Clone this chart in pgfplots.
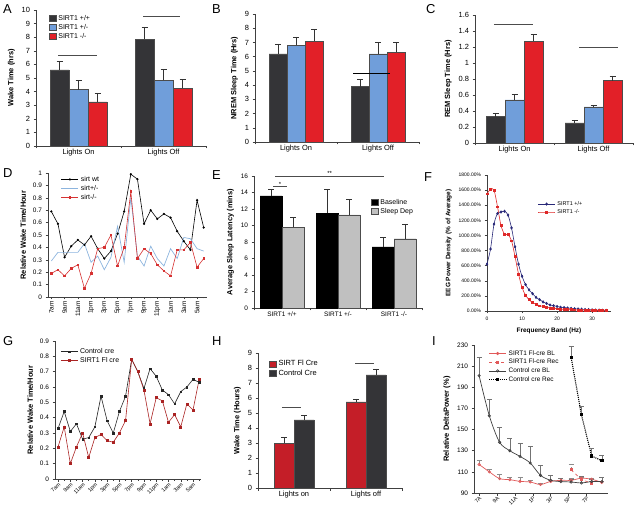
\documentclass[border=0pt]{standalone}
\usepackage{fontspec}
\setmainfont{Liberation Sans}
\usepackage{pgfplots}
\pgfplotsset{compat=1.18}

\definecolor{barblk}{RGB}{52,52,55}
\definecolor{barblu}{RGB}{112,158,218}
\definecolor{barred}{RGB}{226,32,40}
\definecolor{hred}{RGB}{196,30,40}
\definecolor{egrey}{RGB}{192,192,192}
\definecolor{dblue}{RGB}{140,180,222}
\definecolor{dred}{RGB}{214,50,50}
\definecolor{fnavy}{RGB}{40,40,120}
\definecolor{fred}{RGB}{222,40,40}
\definecolor{gred}{RGB}{170,35,35}
\definecolor{ired}{RGB}{225,90,90}

\pgfplotsset{
  panel/.style={
    scale only axis, anchor=south west,
    axis x line*=bottom, axis y line*=left,
    enlargelimits=false,
    tick align=outside,
    major tick length=2.5bp, minor tick length=1.5bp,
    axis line style={black!75, line width=0.5pt},
    every tick/.style={black!75, line width=0.5pt},
    tick label style={font=\fontsize{7.5}{8}\selectfont},
    label style={font=\bfseries\fontsize{7.5}{8}\selectfont},
    /pgf/number format/assume math mode=true,
    legend cell align=left,
    legend style={draw=none, fill=none, font=\fontsize{7}{8}\selectfont,
      row sep=-1.5pt, inner sep=1pt},
    clip=false,
  },
  barpanel/.style={panel, ybar=0pt, ymin=0, xmin=-0.5, xmax=1.5,
    xtick={-0.5,0.5,1.5}, xticklabels={},
    extra x tick style={major tick length=0pt},
    error bars/y dir=plus, error bars/y explicit,
    error bars/error bar style={black!80, line width=0.5pt},
    error bars/error mark options={rotate=90, mark size=3bp, black!80, line width=0.5pt},
    legend image code/.code={\draw[##1, draw=black!70, line width=0.3pt] (0bp,-3bp) rectangle (7bp,3bp);},
  },
}

\pgfplotstableread{
x wt het ko
0 0.69 0.29 0.19
1 0.59 0.36 0.22
2 0.32 0.36 0.17
3 0.41 0.36 0.23
4 0.46 0.36 0.26
5 0.42 0.43 0.07
6 0.49 0.28 0.19
7 0.39 0.33 0.39
8 0.31 0.22 0.40
9 0.37 0.32 0.50
10 0.51 0.57 0.25
11 0.69 0.28 0.40
12 0.99 0.80 0.85
13 0.95 0.33 0.31
14 0.59 0.25 0.39
15 0.70 0.41 0.35
16 0.63 0.31 0.26
17 0.67 0.25 0.21
18 0.64 0.39 0.17
19 0.53 0.31 0.38
20 0.45 0.48 0.38
21 0.38 0.47 0.44
22 0.78 0.39 0.24
23 0.56 0.37 0.31
}\tabD

\pgfplotstableread{
hz wt ko
0 620 1550
1 820 1610
2 1150 1600
3 1290 1380
4 1310 1130
5 1320 1020
6 1270 1010
7 1100 930
8 850 720
9 620 490
10 460 310
11 350 210
12 280 150
13 230 110
14 180 90
15 150 70
16 120 60
17 100 50
18 80 40
19 70 35
20 60 30
21 50 25
22 45 22
23 40 20
24 35 18
25 30 15
26 27 13
27 24 12
28 20 10
29 18 9
30 15 8
31 13 7
32 12 6
33 10 6
34 9 5
}\tabF

\pgfplotstableread{
x ctl fl
0 0.33 0.21
1 0.44 0.34
2 0.31 0.10
3 0.36 0.21
4 0.26 0.30
5 0.27 0.14
6 0.34 0.27
7 0.54 0.29
8 0.38 0.25
9 0.30 0.24
10 0.44 0.30
11 0.54 0.38
12 0.78 0.78
13 0.70 0.70
14 0.59 0.58
15 0.72 0.36
16 0.67 0.53
17 0.58 0.51
18 0.55 0.37
19 0.49 0.42
20 0.57 0.34
21 0.60 0.49
22 0.65 0.45
23 0.63 0.65
}\tabG

\begin{document}
\begin{tikzpicture}
\useasboundingbox (0,0) rectangle (640bp,512bp);

% panel letters
\begin{scope}[every node/.style={anchor=north west, inner sep=0pt, font=\fontsize{13}{14}\selectfont}]
\node at (3bp,508bp) {A};
\node at (212bp,508bp) {B};
\node at (426bp,508bp) {C};
\node at (3bp,344bp) {D};
\node at (212bp,342bp) {E};
\node at (424bp,340bp) {F};
\node at (3bp,176bp) {G};
\node at (212bp,176bp) {H};
\node at (432bp,176bp) {I};
\end{scope}

% ---------- A ----------
\begin{axis}[barpanel, at={(36bp,366bp)}, width=170bp, height=136bp,
  ymax=10, ytick={0,1,...,10}, bar width=19bp,
  ylabel={Wake Time (hrs)},
  extra x ticks={0,1}, extra x tick labels={Lights On,Lights Off},
  legend style={at={(0.07,0.985)}, anchor=north west}]
\addplot[fill=barblk, draw=black!70, line width=0.3pt] coordinates {(0,5.6) +- (0,0.6) (1,7.85) +- (0,0.9)};
\addplot[fill=barblu, draw=black!70, line width=0.3pt] coordinates {(0,4.15) +- (0,0.65) (1,4.85) +- (0,0.8)};
\addplot[fill=barred, draw=black!70, line width=0.3pt] coordinates {(0,3.25) +- (0,0.65) (1,4.25) +- (0,0.65)};
\legend{SIRT1 +/+, SIRT1 +/-, SIRT1 -/-}
\draw[black!70, line width=0.6pt] (axis cs:-0.24,6.67) -- (axis cs:0.22,6.67);
\draw[black!70, line width=0.6pt] (axis cs:0.76,9.56) -- (axis cs:1.19,9.56);
\end{axis}

% ---------- B ----------
\begin{axis}[barpanel, at={(255bp,370bp)}, width=164bp, height=128bp,
  ymax=9, ytick={0,1,...,9}, bar width=18bp,
  ylabel={NREM Sleep Time (Hrs)},
  extra x ticks={0,1}, extra x tick labels={Lights On,Lights Off}]
\addplot[fill=barblk, draw=black!70, line width=0.3pt] coordinates {(0,6.2) +- (0,0.7) (1,3.9) +- (0,0.5)};
\addplot[fill=barblu, draw=black!70, line width=0.3pt] coordinates {(0,6.8) +- (0,0.6) (1,6.2) +- (0,0.8)};
\addplot[fill=barred, draw=black!70, line width=0.3pt] coordinates {(0,7.1) +- (0,0.8) (1,6.3) +- (0,0.7)};
\draw[black, line width=0.9pt] (axis cs:0.70,4.8) -- (axis cs:1.15,4.8);
\end{axis}

% ---------- C ----------
\begin{axis}[barpanel, at={(475bp,369bp)}, width=158bp, height=128bp,
  ymax=1.6, ytick={0,0.2,0.4,0.6,0.8,1,1.2,1.4,1.6}, bar width=19bp,
  ylabel={REM Sleep Time (Hrs)},
  extra x ticks={0,1}, extra x tick labels={Lights On,Lights Off}]
\addplot[fill=barblk, draw=black!70, line width=0.3pt] coordinates {(0,0.33) +- (0,0.04) (1,0.25) +- (0,0.035)};
\addplot[fill=barblu, draw=black!70, line width=0.3pt] coordinates {(0,0.54) +- (0,0.07) (1,0.45) +- (0,0.025)};
\addplot[fill=barred, draw=black!70, line width=0.3pt] coordinates {(0,1.27) +- (0,0.09) (1,0.78) +- (0,0.06)};
\draw[black!70, line width=0.6pt] (axis cs:-0.26,1.48) -- (axis cs:0.23,1.48);
\draw[black!70, line width=0.6pt] (axis cs:0.82,1.2) -- (axis cs:1.31,1.2);
\end{axis}

% ---------- D ----------
\begin{axis}[panel, at={(48bp,215bp)}, width=159bp, height=124bp,
  xmin=-0.5, xmax=23.5, ymin=0, ymax=1,
  ytick={0,0.1,0.2,0.3,0.4,0.5,0.6,0.7,0.8,0.9,1},
  xtick={0,2,...,22}, minor xtick={1,3,...,23},
  xticklabels={7am,9am,11am,1pm,3pm,5pm,7pm,9pm,11pm,1am,3am,5am},
  xticklabel style={rotate=90, anchor=east, inner sep=1.5pt},
  tick label style={font=\fontsize{6.5}{7}\selectfont},
  ylabel={Relative Wake Time/Hour},
  legend style={at={(0.075,1.0)}, anchor=north west}]
\addplot[black, line width=0.6pt, mark=*, mark size=0.8bp] table[x=x, y=wt] {\tabD};
\addplot[dblue, line width=0.7pt, mark=none] table[x=x, y=het] {\tabD};
\addplot[dred, line width=0.6pt, mark=square*, mark size=0.8bp] table[x=x, y=ko] {\tabD};
\legend{sirt wt, sirt+/-, sirt-/-}
\end{axis}

% ---------- E ----------
\begin{axis}[panel, ybar=0pt, at={(254bp,204bp)}, width=168bp, height=132bp,
  xmin=-0.5, xmax=2.5, ymin=0, ymax=16, ytick={0,2,...,16}, bar width=22bp,
  xtick={-0.5,0.5,1.5,2.5}, xticklabels={},
  extra x ticks={0,1,2}, extra x tick labels={SIRT1 +/+,SIRT1 +/-,SIRT1 -/-},
  extra x tick style={major tick length=0pt},
  tick label style={font=\fontsize{6.5}{7}\selectfont},
  ylabel={Average Sleep Latency (mins)},
  error bars/y dir=plus, error bars/y explicit,
  error bars/error bar style={black!80, line width=0.5pt},
  error bars/error mark options={rotate=90, mark size=3bp, black!80, line width=0.5pt},
  legend image code/.code={\draw[#1, draw=black!70, line width=0.3pt] (0bp,-3bp) rectangle (7bp,3bp);},
  legend style={at={(0.69,0.85)}, anchor=north west}]
\addplot[fill=black, draw=black, line width=0.3pt] coordinates {(0,13.6) +- (0,0.8) (1,11.5) +- (0,2.9) (2,7.4) +- (0,1.2)};
\addplot[fill=egrey, draw=black!70, line width=0.3pt] coordinates {(0,9.8) +- (0,1.2) (1,11.3) +- (0,1.9) (2,8.4) +- (0,1.8)};
\legend{Baseline, Sleep Dep}
\draw[black!70, line width=0.6pt] (axis cs:-0.16,14.7) -- (axis cs:0.09,14.7);
\node[font=\fontsize{6}{6}\selectfont, inner sep=0.5pt, above] at (axis cs:-0.035,14.7) {*};
\draw[black!70, line width=0.6pt] (axis cs:-0.125,16) -- (axis cs:1.82,16);
\node[font=\fontsize{6}{6}\selectfont, inner sep=0.5pt, above] at (axis cs:0.85,16) {**};
\end{axis}

% ---------- F ----------
\begin{axis}[panel, at={(487bp,201bp)}, width=124bp, height=136bp,
  xmin=0, xmax=35.4, ymin=0, ymax=1800, ytick={0,200,...,1800},
  xtick={0,10,20,30}, scaled y ticks=false,
  yticklabel={\pgfmathprintnumber[fixed,fixed zerofill,precision=2,1000 sep={}]{\tick}\%},
  tick label style={font=\fontsize{5}{6}\selectfont},
  label style={font=\bfseries\fontsize{6.5}{7}\selectfont},
  xlabel={Frequency Band (Hz)}, ylabel={EEG Power Density (\% of Average)},
  legend style={at={(0.40,0.83)}, anchor=north west, font=\fontsize{5.5}{6}\selectfont}]
\addplot[fnavy, line width=0.6pt, smooth, mark=diamond*, mark size=1.2bp] table[x=hz, y=wt] {\tabF};
\addplot[fred, line width=0.6pt, smooth, mark=square*, mark size=0.9bp] table[x=hz, y=ko] {\tabF};
\legend{SIRT1 +/+, SIRT1 -/-}
\end{axis}

% ---------- G ----------
\begin{axis}[panel, at={(55bp,33bp)}, width=146bp, height=138bp,
  xmin=-0.5, xmax=23.3, ymin=0, ymax=0.9,
  ytick={0,0.1,0.2,0.3,0.4,0.5,0.6,0.7,0.8,0.9},
  xtick={0,2,...,22}, minor xtick={1,3,...,23},
  xticklabels={7am,9am,11am,1pm,3pm,5pm,7pm,9pm,11pm,1am,3am,5am},
  xticklabel style={rotate=45, anchor=north east, inner sep=0.5pt, font=\fontsize{5.5}{6}\selectfont},
  yticklabel style={font=\fontsize{6.5}{7}\selectfont},
  ylabel={Relative Wake Time/Hour},
  legend style={at={(0.03,0.97)}, anchor=north west}]
\addplot[black!85, line width=0.6pt, mark=square*, mark size=0.8bp] table[x=x, y=ctl] {\tabG};
\addplot[gred, line width=0.6pt, mark=square*, mark size=1bp] table[x=x, y=fl] {\tabG};
\legend{Control cre, SIRT1 Fl cre}
\end{axis}

% ---------- H ----------
\begin{axis}[barpanel, at={(258bp,24bp)}, width=144bp, height=135bp,
  ymax=9, ytick={0,1,...,9}, bar width=20bp,
  ylabel={Wake Time (Hours)},
  extra x ticks={0,1}, extra x tick labels={Lights on,Lights off},
  legend style={at={(0.07,0.97)}, anchor=north west, font=\fontsize{7.5}{8}\selectfont}]
\addplot[fill=hred, draw=black!70, line width=0.3pt] coordinates {(0,3.0) +- (0,0.4) (1,5.75) +- (0,0.2)};
\addplot[fill=barblk, draw=black!70, line width=0.3pt] coordinates {(0,4.55) +- (0,0.3) (1,7.55) +- (0,0.4)};
\legend{SIRT Fl Cre, Control Cre}
\draw[black!70, line width=0.6pt] (axis cs:-0.17,5.4) -- (axis cs:0.10,5.4);
\draw[black!70, line width=0.6pt] (axis cs:0.85,8.3) -- (axis cs:1.11,8.3);
\end{axis}

% ---------- I ----------
\begin{axis}[panel, at={(474bp,19bp)}, width=134bp, height=148bp,
  xmin=-0.5, xmax=12.6, ymin=90, ymax=230, ytick={90,110,...,230},
  xtick={0,1.75,3.5,5.25,7,8.75,10.5},
  xticklabels={7A,9A,11A,1P,3P,5P,7P},
  xticklabel style={rotate=45, anchor=north east, inner sep=0.5pt, font=\fontsize{5.5}{6}\selectfont},
  yticklabel style={font=\fontsize{6.5}{7}\selectfont},
  ylabel={Relative DeltaPower (\%)},
  error bars/y dir=plus, error bars/y explicit,
  error bars/error mark options={rotate=90, mark size=2.5bp, line width=0.5pt},
  legend style={at={(0.1,0.985)}, anchor=north west, font=\fontsize{6.5}{7}\selectfont}]
\addplot[ired, line width=0.7pt, smooth, mark=o, mark size=1.2bp,
  error bars/error bar style={black!45, line width=0.5pt}]
  coordinates {(0,117) +- (0,4) (1,110) +- (0,2) (2,103.6) +- (0,4.5) (3,102.6) +- (0,2.5)
   (4,101) +- (0,4) (5,100.4) +- (0,1.5) (6,98) +- (0,1) (7,101) +- (0,1) (8,102) +- (0,2)
   (9,102) +- (0,2) (10,104) +- (0,2) (11,103) +- (0,1) (12,100) +- (0,1)};
\addplot[ired, line width=0.7pt, dashed, mark=square*, mark size=1bp, mark options={solid},
  error bars/error bar style={black!45, line width=0.5pt}]
  coordinates {(9,112) +- (0,5.5) (10,102.5) +- (0,2) (11,99.5) +- (0,1.5)};
\addplot[black!75, line width=0.7pt, smooth, mark=o, mark size=1.2bp,
  error bars/error bar style={black!55, line width=0.5pt}]
  coordinates {(0,201) +- (0,17) (1,163) +- (0,16) (2,138) +- (0,14) (3,130) +- (0,12)
   (4,124.6) +- (0,12.5) (5,118.4) +- (0,16) (6,106.7) +- (0,9.5) (7,102) +- (0,5)
   (8,100.8) +- (0,3) (9,100.4) +- (0,3) (10,99.5) +- (0,6) (11,100.8) +- (0,2) (12,100.8) +- (0,4)};
\addplot[black, line width=1.1pt, densely dotted, mark=square*, mark size=1.1bp, mark options={solid},
  error bars/error bar style={black!55, line width=0.5pt, solid}]
  coordinates {(9,218) +- (0,11) (10,164) +- (0,8) (11,125) +- (0,7) (12,120.5) +- (0,5.5)};
\legend{SIRT1 Fl-cre BL, SIRT1 Fl-cre Rec, Control cre BL, Control cre Rec}
\end{axis}
\end{tikzpicture}
\end{document}
